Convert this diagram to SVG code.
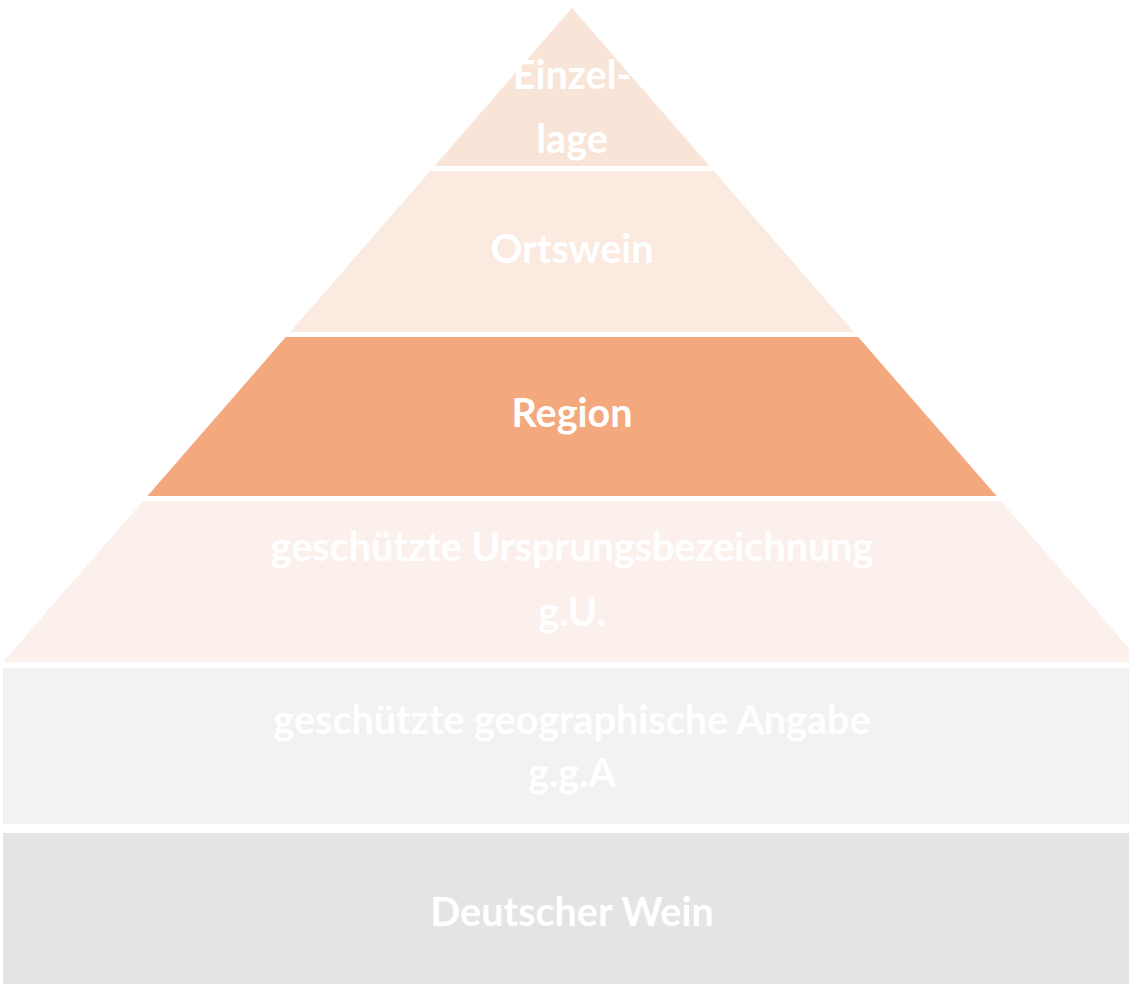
<svg xmlns="http://www.w3.org/2000/svg" width="1129" height="984" viewBox="0 0 1129 984">
<style>
.t{font-family:Lato,"Open Sans","Liberation Sans",sans-serif;font-weight:bold;font-size:39.5px;fill:#ffffff;text-anchor:middle}
</style>
<rect width="1129" height="984" fill="#ffffff"/>
<g id="einzellage">
<polygon points="572,8 709.5,166 434.5,166" fill="#F8E5D8"/>
<text class="t" x="572" y="89">Einzel-</text>
<text class="t" x="572" y="153">lage</text>
</g>
<g id="ortswein">
<polygon points="430.2,171 713.8,171 853.9,332 290.1,332" fill="#FAEADF"/>
<text class="t" x="572" y="263">Ortswein</text>
</g>
<g id="region">
<polygon points="285.8,337 858.2,337 996.6,496 147.4,496" fill="#F3A97D"/>
<text class="t" x="572" y="427">Region</text>
</g>
<g id="gu">
<polygon points="143.1,501 1000.9,501 1141,662 3,662" fill="#FBF0EB"/>
<text class="t" x="572" y="561">geschützte Ursprungsbezeichnung</text>
<text class="t" x="572" y="626">g.U.</text>
</g>
<g id="gga">
<rect x="3" y="668" width="1130" height="156" fill="#F2F2F2"/>
<text class="t" x="572" y="734">geschützte geographische Angabe</text>
<text class="t" x="572" y="787">g.g.A</text>
</g>
<g id="deutscher-wein">
<rect x="3" y="833" width="1130" height="155" fill="#E4E4E4"/>
<text class="t" x="572" y="926">Deutscher Wein</text>
</g>
<g id="connectors"/>
</svg>
